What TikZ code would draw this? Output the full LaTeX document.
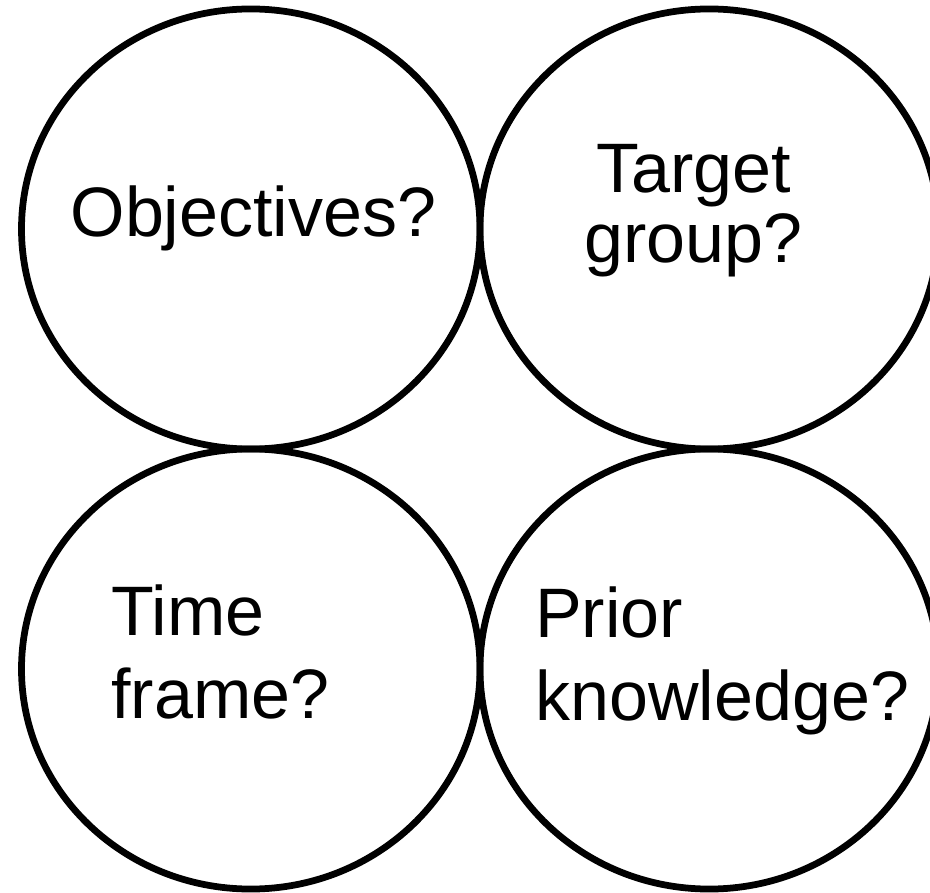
\documentclass[tikz,border=0pt]{standalone}
\usepackage{fontspec}
\setmainfont{Liberation Sans}
\usetikzlibrary{shapes.geometric}

\begin{document}
\begin{tikzpicture}[x=0.025cm,y=-0.025cm,
  bubble/.style={ellipse,draw,line width=4.8pt,minimum width=11.46cm,minimum height=11cm,inner sep=0pt},
  cue/.style={inner sep=0pt,font=\fontsize{49.8}{49.8}\selectfont}]
\useasboundingbox (0,0) rectangle (930,893);
\node[bubble] at (250.75,229) (obj) {};
\node[bubble] at (709.25,229) (target) {};
\node[bubble] at (250.75,669) (time) {};
\node[bubble] at (709.25,669) (prior) {};
\node[cue,anchor=base] at (253.5,237) (objtext) {Objectives?};
\node[cue,align=center,anchor=base] at (693.5,263) (targettext) {Target\\group?};
\node[cue,align=left,anchor=base west,font=\fontsize{49.8}{59}\selectfont] at (111,718) (timetext) {Time\\frame?};
\node[cue,align=left,anchor=base west,font=\fontsize{49.8}{59}\selectfont] at (535,720) (priortext) {Prior\\knowledge?};
\end{tikzpicture}
\end{document}
